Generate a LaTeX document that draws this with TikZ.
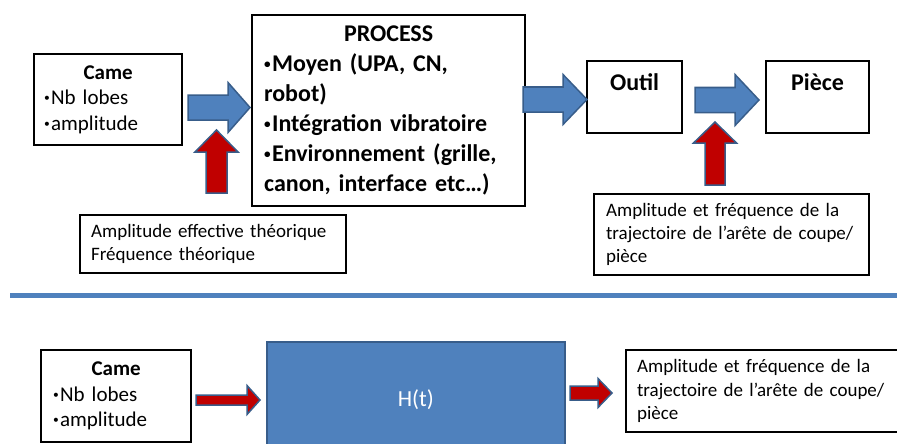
\documentclass[tikz,border=0pt]{standalone}
\usepackage{fontspec}
\setmainfont{Carlito}
\usepackage{tikz}
\usetikzlibrary{positioning}

\definecolor{procblue}{HTML}{4F81BD}
\definecolor{procedge}{HTML}{385D8A}
\definecolor{procred}{HTML}{C00000}

\tikzset{
  box/.style={draw=black, line width=2.2pt, anchor=north west, align=left, inner ysep=0pt},
  camefont/.style={font=\fontsize{21}{25.6}\selectfont},
  procfont/.style={font=\fontsize{24}{30}\selectfont\bfseries},
  notefont/.style={font=\fontsize{19}{23.2}\selectfont},
  bluearrow/.style={draw=procedge, fill=procblue, line width=1.5pt},
  redarrow/.style={draw=procedge, fill=procred, line width=1.5pt}
}

% small list bullet
\newcommand{\bul}{\raisebox{.14em}{\scalebox{.55}{•}}\kern.06em}

% block arrow: style, tail, angle, length, shaft half width, head half width, head length
\newcommand{\fatarrow}[7]{%
  \draw[#1, shift={(#2)}, rotate=#3] (0,-#5) -- ({#4-#7},-#5) -- ({#4-#7},-#6) -- (#4,0)
    -- ({#4-#7},#6) -- ({#4-#7},#5) -- (0,#5) -- cycle;}

\begin{document}
\begin{tikzpicture}[x=1pt,y=-1pt]
  \useasboundingbox (0,0) rectangle (897,444);
  \clip (0,0) rectangle (897,444);

  % chain: came -> process -> tool -> part
  \node[box, camefont, minimum width=148pt, minimum height=91pt, text width=128pt, inner xsep=10pt] (came) at (33,53)
    {{\centering\bfseries Came\par}\bul Nb lobes\\\bul amplitude};
  \node[box, procfont, minimum width=273pt, minimum height=191pt, text width=249pt, inner xsep=12pt] (process) at (251,14)
    {{\centering PROCESS\par}\bul Moyen (UPA, CN,\\robot)\\\bul Intégration vibratoire\\\bul Environnement (grille,\\canon, interface etc…)};
  \node[box, procfont, minimum width=95pt, minimum height=72pt, align=center] (outil) at (586,60) {Outil\\\mbox{}};
  \node[box, procfont, minimum width=103pt, minimum height=72pt, align=center] (piece) at (765,60) {Pièce\\\mbox{}};

  \node[box, notefont, minimum width=266pt, minimum height=58pt, text width=244pt, inner xsep=11pt] (theo) at (79,214)
    {Amplitude effective théorique\\Fréquence théorique};
  \node[box, notefont, minimum width=275pt, minimum height=81pt, text width=251pt, inner xsep=12pt] (trajtop) at (593,193)
    {Amplitude et fréquence de la\\trajectoire de l’arête de coupe/\\pièce};

  \coordinate (a1) at (188,107.5);
  \coordinate (a2) at (523,99.5);
  \coordinate (a3) at (695,100);
  \coordinate (r1) at (216.5,193);
  \coordinate (r2) at (715,185);
  \fatarrow{bluearrow}{a1}{0}{62}{12.5}{25}{22}
  \fatarrow{bluearrow}{a2}{0}{64}{12.5}{25}{24}
  \fatarrow{bluearrow}{a3}{0}{64}{12.5}{25.5}{24}
  \fatarrow{redarrow}{r1}{90}{63}{10.5}{21.5}{22}
  \fatarrow{redarrow}{r2}{90}{63}{10}{21.5}{21}

  \draw[procblue, line width=5pt] (10,295) -- (897,295);

  % transfer function
  \node[box, camefont, minimum width=150pt, minimum height=92pt, text width=126pt, inner xsep=12pt] (camelow) at (40,349)
    {{\centering\bfseries Came\par}\bul Nb lobes\\\bul amplitude};
  \node[draw=procedge, fill=procblue, line width=1.5pt, anchor=north west, minimum width=298pt, minimum height=116pt,
    text=white, font=\fontsize{23}{28}\selectfont] (sys) at (266,341) {H(t)};
  \node[box, notefont, minimum width=300pt, minimum height=82pt, text width=278pt, inner xsep=11pt] (trajlow) at (625,349)
    {Amplitude et fréquence de la\\trajectoire de l’arête de coupe/\\pièce};

  \coordinate (b1) at (196,400);
  \coordinate (b2) at (570,393);
  \fatarrow{redarrow}{b1}{0}{64}{5}{14.5}{13}
  \fatarrow{redarrow}{b2}{0}{42}{7}{14.5}{14}
\end{tikzpicture}
\end{document}
